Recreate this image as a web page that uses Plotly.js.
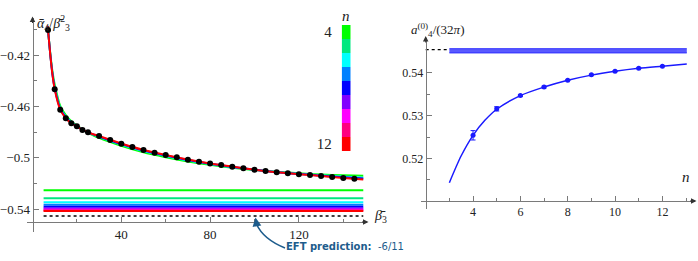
<!DOCTYPE html>
<html><head><meta charset="utf-8">
<script src="https://cdn.plot.ly/plotly-3.0.1.min.js"></script>
<style>html,body{margin:0;padding:0;background:#fff}#c{width:698px;height:261px}</style>
</head><body><div id="c"></div>
<script>
// ---------- data (left panel) ----------
const betaPts = [7,10,12.5,15,17.5,20,22.5,25,30,35,40,45,50,55,60,65,70,75,80,85,90,95,100,105,110,115,120,125,130,135,140,145];
const ratioPts = [-0.4005,-0.4467,-0.4626,-0.4693,-0.4732,-0.4755,-0.4784,-0.4802,-0.4831,-0.4862,-0.4891,-0.4917,-0.4940,-0.4961,-0.4979,-0.4997,-0.5016,-0.5032,-0.5045,-0.5057,-0.5070,-0.5083,-0.5094,-0.5104,-0.5114,-0.5122,-0.5129,-0.5135,-0.5143,-0.5151,-0.5158,-0.5164];
const betaCurve = [6.8,7,8,9,10,12.5,15,17.5,20,25,30,40,50,60,70,80,90,100,110,120,130,140,149];
const curveN4  = [-0.3975,-0.4005,-0.4185,-0.4330,-0.4430,-0.4597,-0.4668,-0.4716,-0.4750,-0.4806,-0.4845,-0.4907,-0.4958,-0.4996,-0.5029,-0.5056,-0.5078,-0.5096,-0.5110,-0.5122,-0.5131,-0.5137,-0.5141];
const curveN6  = [-0.3975,-0.4005,-0.4192,-0.4345,-0.4450,-0.4612,-0.4681,-0.4725,-0.4754,-0.4804,-0.4838,-0.4898,-0.4949,-0.4987,-0.5022,-0.5050,-0.5074,-0.5095,-0.5112,-0.5125,-0.5137,-0.5148,-0.5156];
const curveN8  = [-0.3975,-0.4005,-0.4194,-0.4350,-0.4458,-0.4619,-0.4687,-0.4728,-0.4756,-0.4803,-0.4835,-0.4894,-0.4944,-0.4983,-0.5018,-0.5047,-0.5072,-0.5094,-0.5113,-0.5127,-0.5140,-0.5153,-0.5163];
const curveN12 = [-0.3975,-0.4005,-0.4195,-0.4355,-0.4467,-0.4626,-0.4693,-0.4732,-0.4757,-0.4802,-0.4832,-0.4890,-0.4940,-0.4979,-0.5015,-0.5045,-0.5070,-0.5094,-0.5114,-0.5129,-0.5143,-0.5158,-0.5170];
const limitBeta = [5,149];
const eftValue = -6/11;

// ---------- data (right panel) ----------
const nVals = [4,5,6,7,8,9,10,11,12];
const a4Vals = [0.5254,0.5316,0.5347,0.5367,0.5383,0.5396,0.5404,0.5411,0.5416];
const a4Err  = [0.0011,0.0005,0.0002,0.0002,0.0001,0.0001,0.0001,0.0001,0.0001];
const fitN = [3,3.5,4,4.5,5,6,7,8,9,10,11,12,13.03];
const fitA = [0.5143,0.5206,0.5254,0.5289,0.5315,0.5347,0.5367,0.5383,0.5395,0.5404,0.5411,0.5416,0.5421];
const bandN = [3,13.03];
const bandLow = 0.5447, bandHigh = 0.5457;
const dashN = [2,3];

const nColors = ['#00ff00','#00e87f','#00ffff','#0080ff','#0000ff','#8000ff','#ff00ff','#ff0080','#ff0000'];
const tickLeftY = [-0.54,-0.5,-0.46,-0.42];
const tickLeftYText = ['\u22120.54','\u22120.5','\u22120.46','\u22120.42'];
const tickLeftX = [40,80,120];
const tickRightY = [0.52,0.53,0.54];
const tickRightX = [4,6,8,10,12];

// ---------- geometry helpers ----------
const W = 698, H = 261;
const px = x => x / W, py = y => 1 - y / H;

const traces = [];
nVals.forEach((n, i) => {
  traces.push({x: limitBeta, y: [-a4Vals[i], -a4Vals[i]], mode: 'lines', line: {color: nColors[i], width: 2}, xaxis: 'x', yaxis: 'y', hoverinfo: 'skip'});
});
traces.push({x: limitBeta, y: [eftValue, eftValue], mode: 'lines', line: {color: '#000', width: 1.5, dash: '3px,3px'}, xaxis: 'x', yaxis: 'y'});
[[curveN4, nColors[0]], [curveN6, nColors[2]], [curveN8, nColors[4]], [curveN12, nColors[8]]].forEach(([ys, c]) => {
  traces.push({x: betaCurve, y: ys, mode: 'lines', line: {color: c, width: 2, shape: 'spline', smoothing: 0.8}, xaxis: 'x', yaxis: 'y'});
});
traces.push({x: betaPts, y: ratioPts, mode: 'markers', marker: {color: '#000', size: 6}, xaxis: 'x', yaxis: 'y'});

traces.push({x: dashN, y: [-eftValue, -eftValue], mode: 'lines', line: {color: '#000', width: 1.2, dash: '3px,3px'}, xaxis: 'x2', yaxis: 'y2'});
traces.push({x: bandN, y: [bandLow, bandLow], mode: 'lines', line: {color: 'rgba(40,40,255,0.9)', width: 1}, xaxis: 'x2', yaxis: 'y2'});
traces.push({x: bandN, y: [bandHigh, bandHigh], mode: 'lines', fill: 'tonexty', fillcolor: 'rgba(60,60,255,0.85)', line: {color: 'rgba(40,40,255,0.9)', width: 1}, xaxis: 'x2', yaxis: 'y2'});
traces.push({x: fitN, y: fitA, mode: 'lines', line: {color: '#1a1aff', width: 1.5, shape: 'spline', smoothing: 0.8}, xaxis: 'x2', yaxis: 'y2'});
traces.push({x: nVals, y: a4Vals, mode: 'markers', marker: {color: '#1a1aff', size: 5},
  error_y: {type: 'data', array: a4Err, visible: true, color: '#1a1aff', thickness: 1, width: 2.5}, xaxis: 'x2', yaxis: 'y2'});

const cs = [];
nColors.forEach((c, i) => { cs.push([i / 9, c]); cs.push([(i + 1) / 9, c]); });
traces.push({type: 'heatmap', x: [0], y: nVals, z: nVals.map(n => [n]), zmin: 3.5, zmax: 12.5, colorscale: cs, showscale: false, xaxis: 'x3', yaxis: 'y3', hoverinfo: 'skip'});

const axCol = '#7a7a7a';
const serif = 'Liberation Serif, Times New Roman, serif';
const common = {showgrid: false, zeroline: false, showline: true, linecolor: axCol, linewidth: 1, ticks: 'inside', tickcolor: axCol, tickwidth: 1, fixedrange: true};
const arrowHead = (x, y, ax, ay, col, w) => ({xref: 'paper', yref: 'paper', x: x, y: y, ax: ax, ay: ay, text: '', showarrow: true, arrowhead: 2, arrowsize: 1.1, arrowwidth: w, arrowcolor: col, standoff: 0});

const layout = {
  width: W, height: H, margin: {l: 0, r: 0, t: 0, b: 0}, showlegend: false,
  paper_bgcolor: '#fff', plot_bgcolor: 'rgba(0,0,0,0)',
  xaxis: Object.assign({}, common, {domain: [px(26.7), px(367)], range: [-2.61, 150.68], anchor: 'free', position: py(222),
    tickmode: 'array', tickvals: tickLeftX, ticklen: 5, tickfont: {family: serif, size: 13, color: '#222'},
    minor: {tickmode: 'array', tickvals: [20,60,100,140], ticks: 'inside', ticklen: 3, tickcolor: axCol}}),
  yaxis: Object.assign({}, common, {domain: [py(231.7), py(17.8)], range: [-0.55769, -0.39101], anchor: 'free', position: px(32.5),
    tickmode: 'array', tickvals: tickLeftY, ticktext: tickLeftYText, ticklen: 5, tickfont: {family: serif, size: 13, color: '#222'},
    minor: {tickmode: 'array', tickvals: [-0.52,-0.48,-0.44,-0.40], ticks: 'inside', ticklen: 3, tickcolor: axCol}}),
  xaxis2: Object.assign({}, common, {domain: [px(420.7), px(695)], range: [1.7888, 13.377], anchor: 'free', position: py(201),
    tickmode: 'array', tickvals: tickRightX, ticklen: 5, tickfont: {family: serif, size: 12, color: '#222'},
    minor: {tickmode: 'array', tickvals: [3,5,7,9,11,13], ticks: 'inside', ticklen: 3, tickcolor: axCol}}),
  yaxis2: Object.assign({}, common, {domain: [py(209.3), py(37.7)], range: [0.50806, 0.54827], anchor: 'free', position: px(425.7),
    tickmode: 'array', tickvals: tickRightY, ticktext: ['0.52','0.53','0.54'], ticklen: 5, tickfont: {family: serif, size: 12, color: '#222'},
    minor: {tickmode: 'array', tickvals: [0.515,0.525,0.535], ticks: 'inside', ticklen: 3, tickcolor: axCol}}),
  xaxis3: {domain: [px(341.7), px(350.7)], range: [-0.5, 0.5], visible: false, anchor: 'y3', fixedrange: true},
  yaxis3: {domain: [py(151), py(25)], range: [12.5, 3.5], anchor: 'x3', showgrid: false, zeroline: false, showline: false,
    tickmode: 'array', tickvals: [4, 12], ticks: 'outside', ticklen: 6, tickcolor: 'rgba(0,0,0,0)',
    tickfont: {family: serif, size: 15, color: '#222'}, fixedrange: true},
  shapes: [
    {type: 'path', xref: 'paper', yref: 'paper', path: `M ${px(285)} ${py(248)} Q ${px(263)} ${py(239)} ${px(256.5)} ${py(224)}`,
     line: {color: '#1d5c8c', width: 1.6}}
  ],
  annotations: [
    {xref: 'paper', yref: 'paper', x: px(35), y: py(11), text: '<i>ᾱ</i><sub>4</sub>/<i>β̄</i><sup>2</sup><sub>3</sub>', showarrow: false, font: {family: serif, size: 14, color: '#222'}},
    {xref: 'paper', yref: 'paper', x: px(380), y: py(227), text: '<i>β̄</i><sub>3</sub>', showarrow: false, font: {family: serif, size: 14, color: '#222'}},
    {xref: 'paper', yref: 'paper', x: px(346), y: py(16), yanchor: 'middle', text: '<i>n</i>', showarrow: false, font: {family: serif, size: 15, color: '#222'}},
    {xref: 'paper', yref: 'paper', x: px(437), y: py(19), text: '<i>a</i><sup>(0)</sup><sub>4</sub>/(32<i>π</i>)', showarrow: false, font: {family: serif, size: 13, color: '#222'}},
    {xref: 'paper', yref: 'paper', x: px(692), y: py(187), text: '<i>n</i>', showarrow: false, font: {family: serif, size: 15, color: '#222'}},
    {xref: 'paper', yref: 'paper', x: px(345), y: py(254), text: '<b>EFT prediction:</b>  -6/11', showarrow: false, font: {family: 'DejaVu Sans', size: 10, color: '#1d5c8c'}},
    arrowHead(px(255.5), py(217.5), 1.5, 9, '#1d5c8c', 1.6),
    arrowHead(px(32.5), py(16.5), 0, 8, '#333', 1),
    arrowHead(px(368.5), py(222), -8, 0, '#333', 1),
    arrowHead(px(425.7), py(36), 0, 8, '#333', 1),
    arrowHead(px(696.5), py(201), -8, 0, '#333', 1)
  ]
};

Plotly.newPlot('c', traces, layout, {staticPlot: true, displayModeBar: false});
</script>
</body></html>
